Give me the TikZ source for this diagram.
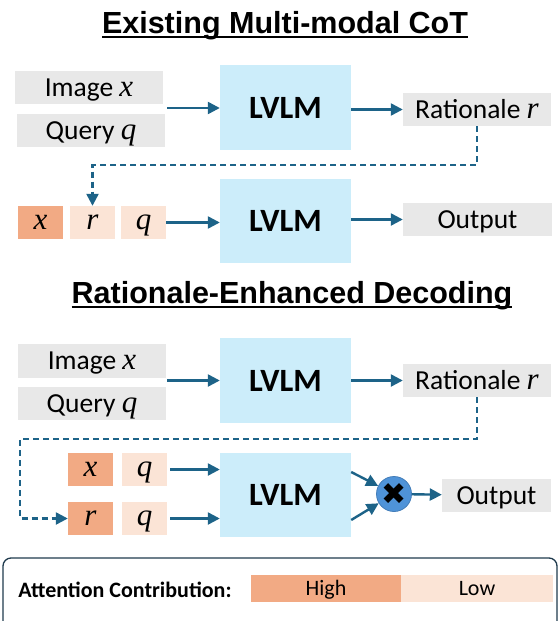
\documentclass[tikz,border=0pt]{standalone}
\usepackage{fontspec}
\setmainfont{Carlito}
\newfontfamily\headfont{Liberation Sans}
\newfontfamily\symfont{DejaVu Sans}
\newfontfamily\varfont{Liberation Serif}
\usetikzlibrary{arrows.meta}

\definecolor{boxgray}{HTML}{E8E8E8}
\definecolor{lvlmblue}{HTML}{CCEDFA}
\definecolor{tokhigh}{HTML}{F2AA84}
\definecolor{toklow}{HTML}{FBE4D6}
\definecolor{arrowblue}{HTML}{1D6388}
\definecolor{mulblue}{HTML}{4F93D8}
\definecolor{legendline}{HTML}{1F3A4D}

% thick underline for the headings
\newcommand{\headline}[1]{\setbox0\hbox{#1}\rlap{\copy0}\rule[-4.5pt]{\wd0}{2pt}}
% italic variable names
\newcommand{\va}[1]{{\varfont\itshape\fontsize{31}{32}\selectfont #1}}

\begin{document}
\begin{tikzpicture}[x=1pt, y=-1pt]

    \useasboundingbox (0,0) rectangle (559,621);

    % Headings
    \tikzset{hd/.style={anchor=base, inner sep=0pt, font=\headfont\fontsize{30.5}{36}\selectfont\bfseries}}

    % Text boxes
    \tikzset{tB/.style={fill=boxgray, inner sep=0pt, minimum width=148pt, minimum height=33pt, text height=17.5pt, text depth=0pt, font=\fontsize{27.5}{30}\selectfont}}
    \tikzset{mB/.style={fill=lvlmblue, inner sep=0pt, minimum width=131pt, minimum height=85pt, text height=21pt, text depth=0pt, font=\fontsize{32.5}{36}\selectfont\bfseries}}

    % Tokens
    \tikzset{hT/.style={fill=tokhigh, inner sep=0pt, minimum width=45pt, minimum height=33pt, text height=14pt, text depth=0pt, font=\fontsize{27.5}{30}\selectfont}}
    \tikzset{lT/.style={hT, fill=toklow}}
    \tikzset{lg/.style={minimum height=27pt, inner sep=0pt, text height=14pt, text depth=0pt, font=\fontsize{22}{26}\selectfont}}

    % Arrows
    \tikzset{aR/.style={draw=arrowblue, line width=2.4pt, -{Triangle[length=12pt, width=12pt]}}}
    \tikzset{dA/.style={aR, dash pattern=on 6pt off 4pt}}

    % Existing Multi-modal CoT
    \node (h1) [hd] at (285, 33) {\headline{Existing Multi-modal CoT}};
    \node (img1) [tB] at (89, 87.5) {Image \va{x}};
    \node (qry1) [tB] at (91, 130.5) {Query \va{q}};
    \coordinate (in1) at (167, 108);
    \node (lvlm1) [mB] at (285.5, 107.5) {LVLM};
    \node (rat1) [tB] at (477, 109.5) {Rationale \va{r}};
    \coordinate (bend1) at (92.5, 165);
    	\node (x2) [hT] at (40.5, 222.5) {\va{x}};
    	\node (r2) [lT] at (92.5, 222.5) {\va{r}};
    	\node (q2) [lT] at (143.5, 222.5) {\va{q}};
    \node (lvlm2) [mB, minimum height=84pt] at (285.5, 221) {LVLM};
    \node (out1) [tB, minimum width=149pt] at (477.5, 219.5) {Output};

    % Rationale-Enhanced Decoding
    \node (h2) [hd] at (292, 303) {\headline{Rationale-Enhanced Decoding}};
    \node (img2) [tB, minimum height=34pt] at (92, 361) {Image \va{x}};
    \node (qry2) [tB] at (92, 403.5) {Query \va{q}};
    \coordinate (in3) at (167, 380.5);
    \node (lvlm3) [mB] at (285.5, 380.5) {LVLM};
    \node (rat2) [tB] at (477, 380.5) {Rationale \va{r}};
    \coordinate (bend2) at (20, 439);
    	\node (x3) [hT] at (90.5, 469.5) {\va{x}};
    	\node (qa3) [lT] at (144.5, 469.5) {\va{q}};
    	\node (r3) [hT] at (90.5, 518.5) {\va{r}};
    	\node (qb3) [lT] at (144.5, 518.5) {\va{q}};
    \node (lvlm4) [mB, minimum height=84pt] at (285.5, 495) {LVLM};
    \node (mul) [circle, fill=mulblue, draw=mulblue!85!black, line width=0.8pt, minimum size=35pt, inner sep=0pt, font=\symfont\fontsize{30}{30}\selectfont] at (394, 494) {✖};
    \node (out2) [tB, minimum width=109pt] at (496.5, 495.5) {Output};

    % Legend
    \node (legend) [draw=legendline, line width=1.3pt, rounded corners=8pt, minimum width=554pt, minimum height=94pt] at (280, 605) {};
    \node (att) [font=\fontsize{22}{26}\selectfont\bfseries, inner sep=0pt] at (125, 590) {Attention Contribution:};
    \node (high) [lg, fill=tokhigh, minimum width=150pt] at (326, 588.5) {High};
    \node (low) [lg, fill=toklow, minimum width=152pt] at (477, 588.5) {Low};

    % Connectors
    \path[aR] (in1) -- (lvlm1.west |- in1);
    \path[aR] (lvlm1.east |- rat1) -- (rat1.west);
    \path[dA] (rat1.south) |- (bend1) -- (r2.north);
    \path[aR] (q2.east) -- (lvlm2.west |- q2);
    \path[aR] (lvlm2.east |- out1) -- (out1.west);

    \path[aR] (in3) -- (lvlm3.west |- in3);
    \path[aR] (lvlm3.east) -- (rat2.west);
    \path[dA] (rat2.south) |- (bend2) |- (r3.west);
    \path[aR, shorten <=3pt] (qa3.east) -- (lvlm4.west |- qa3);
    \path[aR, shorten <=3pt] (qb3.east) -- (lvlm4.west |- qb3);
    \path[aR] ([yshift=23pt]lvlm4.east) -- (mul);
    \path[aR] ([yshift=-25pt]lvlm4.east) -- (mul);
    \path[aR] (mul) -- (out2);

\end{tikzpicture}
\end{document}
